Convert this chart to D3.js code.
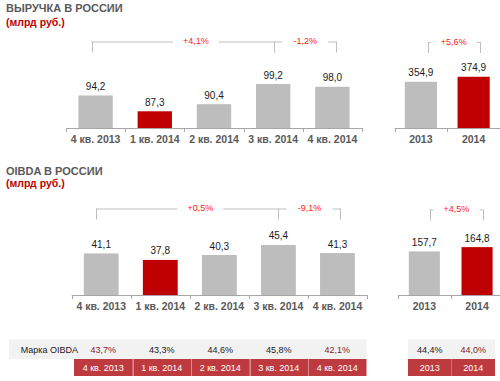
<!DOCTYPE html>
<html><head><meta charset="utf-8">
<script src="https://cdnjs.cloudflare.com/ajax/libs/d3/7.8.5/d3.min.js"></script>
<style>body{margin:0;background:#fff}svg{display:block;font-family:"Liberation Sans",Arial,sans-serif}</style>
</head><body><svg id="c" width="500" height="381"></svg>
<script>
const quarters = ["4 кв. 2013","1 кв. 2014","2 кв. 2014","3 кв. 2014","4 кв. 2014"];
const years = ["2013","2014"];
const revenueQ = [94.2, 87.3, 90.4, 99.2, 98.0];
const revenueY = [354.9, 374.9];
const oibdaQ = [41.1, 37.8, 40.3, 45.4, 41.3];
const oibdaY = [157.7, 164.8];
const highlightQ = [false, true, false, false, false];
const highlightY = [false, true];
const revenueQChanges = [[0, 3, "+4,1%"], [3, 4, "-1,2%"]];
const revenueYChanges = [[0, 1, "+5,6%"]];
const oibdaQChanges = [[0, 3, "+0,5%"], [3, 4, "-9,1%"]];
const oibdaYChanges = [[0, 1, "+4,5%"]];
const marginQ = [43.7, 43.3, 44.6, 45.8, 42.1];
const marginY = [44.4, 44.0];
const marginDownQ = [true, false, false, false, true];
const marginDownY = [false, true];
const marginLabel = "Марка OIBDA";

const svg = d3.select("#c");
const fmt = v => d3.format(".1f")(v).replace(".", ",");
const GRAY = "#bdbdbd", RED = "#c00000", TXT = "#595959";

function title(y, t1, t2, gap) {
  svg.append("text").attr("x", 6).attr("y", y).attr("font-size", 11).attr("font-weight", "bold")
    .attr("fill", TXT).text(t1);
  svg.append("text").attr("x", 6).attr("y", y + gap).attr("font-size", 10.5).attr("font-weight", "bold")
    .attr("fill", RED).text(t2);
}
title(11.5, "ВЫРУЧКА В РОССИИ", "(млрд руб.)", 14.5);
title(174.8, "OIBDA В РОССИИ", "(млрд руб.)", 12.6);

function panel(o) {
  const x = d3.scaleBand().domain(o.cats).range(o.xr).paddingInner(o.pi).paddingOuter(o.pi / 2);
  const y = d3.scaleLinear().domain(o.yd).range([o.base, o.yTop]);
  const g = svg.append("g");
  // axis
  g.append("line").attr("x1", o.xr[0]).attr("x2", o.xr[1]).attr("y1", o.base + 0.5).attr("y2", o.base + 0.5)
    .attr("stroke", "#a6a6a6");
  const bounds = o.cats.map(c => x(c) - x.step() * x.paddingInner() / 2);
  bounds.push(o.xr[1]);
  g.selectAll(".tk").data(bounds).join("line").attr("x1", d => Math.round(d) + 0.5).attr("x2", d => Math.round(d) + 0.5)
    .attr("y1", o.base).attr("y2", o.base + 4).attr("stroke", "#a6a6a6");
  // bars
  g.selectAll(".bar").data(o.vals).join("rect")
    .attr("x", (d, i) => x(o.cats[i])).attr("width", x.bandwidth())
    .attr("y", d => y(d)).attr("height", d => o.base - y(d))
    .attr("fill", (d, i) => o.hl[i] ? RED : GRAY);
  g.selectAll(".vl").data(o.vals).join("text")
    .attr("x", (d, i) => x(o.cats[i]) + x.bandwidth() / 2).attr("y", d => y(d) - 5.5)
    .attr("text-anchor", "middle").attr("font-size", 10).attr("fill", "#1a1a1a").text(d => fmt(d));
  g.selectAll(".cl").data(o.cats).join("text")
    .attr("x", d => x(d) + x.bandwidth() / 2).attr("y", o.base + 15)
    .attr("text-anchor", "middle").attr("font-size", 10.5).attr("font-weight", "bold").attr("fill", TXT).text(d => d);
  // brackets
  o.changes.forEach((ch, k) => {
    const cx = i => x(o.cats[i]) + x.bandwidth() / 2;
    const x1 = cx(ch[0]) + o.bdx[k][0], x2 = cx(ch[1]) + o.bdx[k][1];
    const tx = (x1 + x2) / 2 + o.bdx[k][2];
    const ty = o.bTop, gap = 23;
    const st = "#bfbfbf";
    const segs = [[x1, Math.max(x1, tx - gap)], [Math.min(x2, tx + gap), x2]];
    segs.forEach(s => {
      if (s[1] > s[0]) g.append("line").attr("x1", s[0]).attr("x2", s[1]).attr("y1", ty + 0.5).attr("y2", ty + 0.5).attr("stroke", st);
    });
    [x1, x2].forEach(xx => g.append("line").attr("x1", Math.round(xx) + 0.5).attr("x2", Math.round(xx) + 0.5)
      .attr("y1", ty).attr("y2", ty + 11).attr("stroke", st));
    g.append("text").attr("x", tx).attr("y", ty + 2.5).attr("text-anchor", "middle")
      .attr("font-size", 9).attr("fill", "#ff1a1a").text(ch[2]);
  });
}

panel({cats: quarters, vals: revenueQ, hl: highlightQ, xr: [66, 362], pi: 0.42, yd: [80, 100], base: 128, yTop: 82.2,
  changes: revenueQChanges, bTop: 41.5, bdx: [[-4, 1, 13], [1, 4, 0]]});
panel({cats: years, vals: revenueY, hl: highlightY, xr: [394.5, 500], pi: 0.39, yd: [170, 380], base: 128, yTop: 75.5,
  changes: revenueYChanges, bTop: 42, bdx: [[7, 6, 0]]});
panel({cats: quarters, vals: oibdaQ, hl: highlightQ, xr: [71.7, 367], pi: 0.41, yd: [20, 50], base: 295, yTop: 235.9,
  changes: oibdaQChanges, bTop: 208.5, bdx: [[-5, 0, 13], [0, 3, 0]]});
panel({cats: years, vals: oibdaY, hl: highlightY, xr: [398, 503.4], pi: 0.41, yd: [85, 170], base: 295, yTop: 244,
  changes: oibdaYChanges, bTop: 209.5, bdx: [[6, 5.5, 0]]});

// table
function table(cats, vals, down, xr, withLabel) {
  const x = d3.scaleBand().domain(cats).range(xr);
  const g = svg.append("g");
  g.append("rect").attr("x", withLabel ? 9 : xr[0]).attr("y", 339.5).attr("width", xr[1] - (withLabel ? 9 : xr[0]))
    .attr("height", 19.5).attr("fill", "#f2f2f2");
  if (withLabel) g.append("text").attr("x", 20.7).attr("y", 353).attr("font-size", 9).attr("fill", "#1a1a1a").text(marginLabel);
  g.selectAll(".mv").data(vals).join("text").attr("x", (d, i) => x(cats[i]) + x.bandwidth() / 2).attr("y", 353)
    .attr("text-anchor", "middle").attr("font-size", 9).attr("fill", (d, i) => down[i] ? "#8b1a1a" : "#1a1a1a")
    .text(d => fmt(d) + "%");
  g.selectAll(".rc").data(cats).join("rect").attr("x", d => x(d)).attr("y", 359).attr("width", x.bandwidth())
    .attr("height", 17).attr("fill", "#bd3b3f");
  if (withLabel) g.selectAll(".sp").data(cats.slice(1)).join("line").attr("x1", d => Math.round(x(d)) + 0.5)
    .attr("x2", d => Math.round(x(d)) + 0.5).attr("y1", 359).attr("y2", 376).attr("stroke", "#d98a8c");
  g.selectAll(".rl").data(cats).join("text").attr("x", d => x(d) + x.bandwidth() / 2).attr("y", 370.8)
    .attr("text-anchor", "middle").attr("font-size", 9).attr("fill", "#fff").text(d => d);
}
table(quarters, marginQ, marginDownQ, [74, 366.5], true);
table(years, marginY, marginDownY, [408, 495], false);
</script></body></html>
